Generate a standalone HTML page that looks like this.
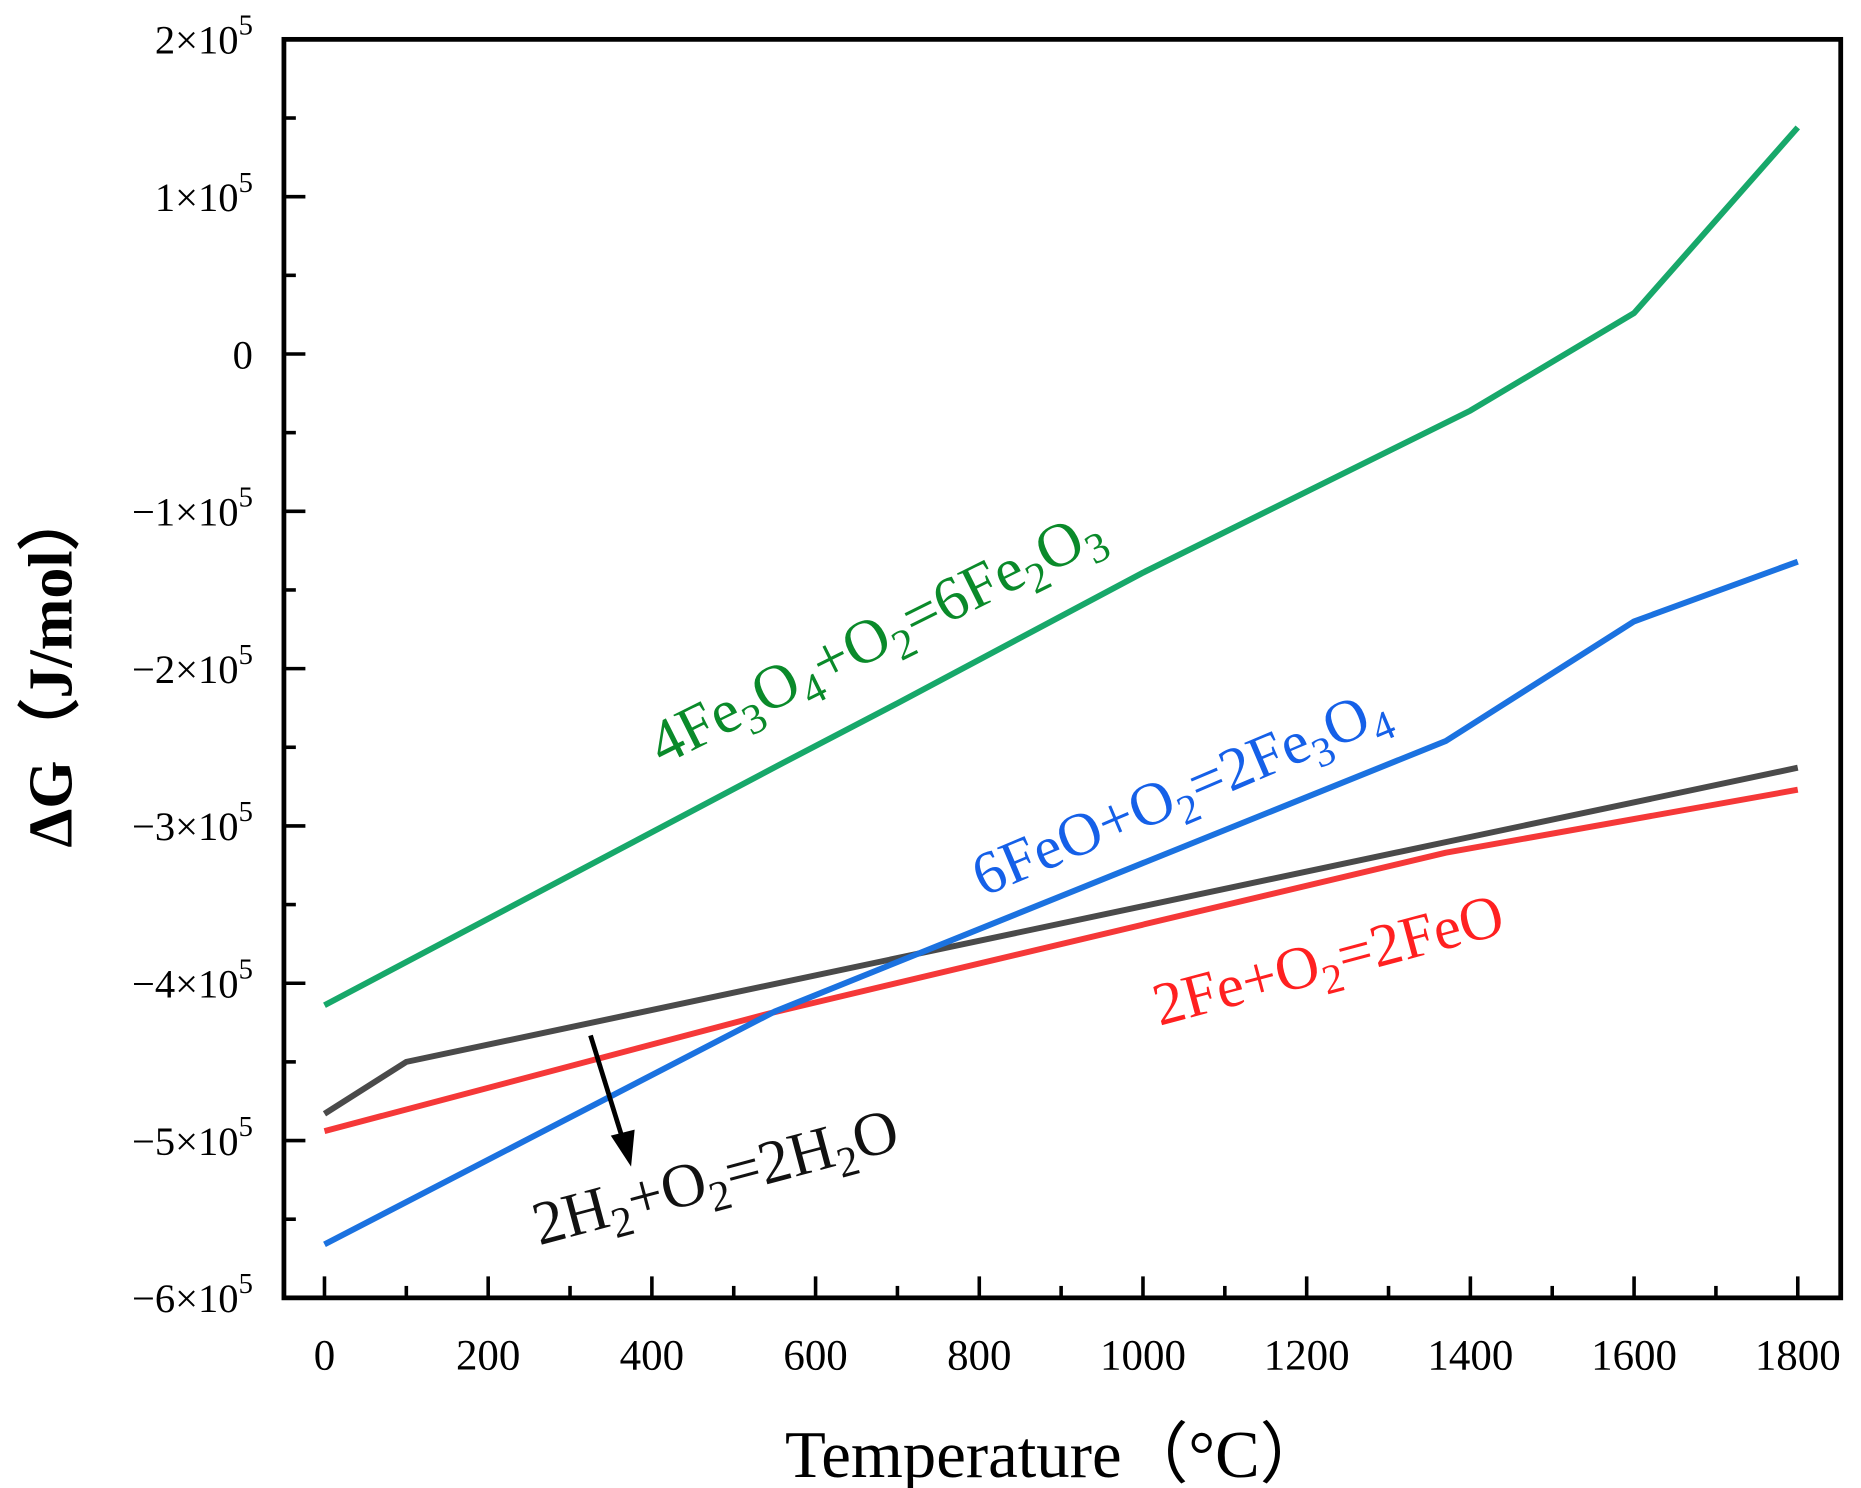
<!DOCTYPE html>
<html><head><meta charset="utf-8"><style>
body{margin:0;background:#fff}
svg{display:block}
text{font-family:"Liberation Serif",serif}
</style></head><body>
<svg id="chart" width="1861" height="1488" viewBox="0 0 1560 1247.4" preserveAspectRatio="none">
<g id="marks"></g>
<rect x="238" y="33" width="1305" height="1055" fill="none" stroke="#000" stroke-width="4"/>
<g id="ticks"></g>
<text x="885" y="1238" font-size="56" text-anchor="middle">Temperature（°C）</text>
<text transform="translate(60,560) rotate(-90)" font-size="52" font-weight="bold" text-anchor="middle">ΔG（J/mol）</text>
<text transform="translate(555,642) rotate(-26.5)" font-size="52" fill="#0a8a2a">4Fe<tspan font-size="36" dy="11">3</tspan><tspan dy="-11">O</tspan><tspan font-size="36" dy="11">4</tspan><tspan dy="-11">+O</tspan><tspan font-size="36" dy="11">2</tspan><tspan dy="-11">=6Fe</tspan><tspan font-size="36" dy="11">2</tspan><tspan dy="-11">O</tspan><tspan font-size="36" dy="11">3</tspan></text>
<text transform="translate(824,752) rotate(-23)" font-size="51" fill="#1560e8">6FeO+O<tspan font-size="35" dy="11">2</tspan><tspan dy="-11">=2Fe</tspan><tspan font-size="35" dy="11">3</tspan><tspan dy="-11">O</tspan><tspan font-size="35" dy="11">4</tspan></text>
<text transform="translate(972,860) rotate(-15)" font-size="51" fill="#ff2020">2Fe+O<tspan font-size="35" dy="11">2</tspan><tspan dy="-11">=2FeO</tspan></text>
<text transform="translate(452,1044) rotate(-15)" font-size="52" fill="#111">2H<tspan font-size="36" dy="11">2</tspan><tspan dy="-11">+O</tspan><tspan font-size="36" dy="11">2</tspan><tspan dy="-11">=2H</tspan><tspan font-size="36" dy="11">2</tspan><tspan dy="-11">O</tspan></text>
<line x1="495" y1="868" x2="522" y2="955" stroke="#000" stroke-width="4"/>
<polygon points="529,978 512,952 532,947" fill="#000"/>
</svg>
<script>
const greenT=[0,360,560,700,1000,1400,1600,1800];
const greenG=[-4.14,-3.15,-2.6,-2.22,-1.39,-0.36,0.26,1.44];
const blueT=[0,550,1370,1600,1800];
const blueG=[-5.66,-4.18,-2.46,-1.70,-1.32];
const blackT=[0,100,1800];
const blackG=[-4.83,-4.50,-2.63];
const redT=[0,545,1370,1800];
const redG=[-4.94,-4.19,-3.17,-2.77];
const xTicks=[0,200,400,600,800,1000,1200,1400,1600,1800];
const yTicks=[2,1,0,-1,-2,-3,-4,-5,-6];
const NS="http://www.w3.org/2000/svg";
const X=t=>272+(t/1800)*(1507-272);
const Y=g=>33+(2-g)*(1088-33)/8;
const marks=document.getElementById('marks'),ticks=document.getElementById('ticks');
function line(T,G,color,name){
  const p=document.createElementNS(NS,'polyline');
  p.setAttribute('points',T.map((t,i)=>X(t)+','+Y(G[i])).join(' '));
  p.setAttribute('fill','none');p.setAttribute('stroke',color);p.setAttribute('stroke-width','5');
  p.setAttribute('stroke-linejoin','round');
  
  
  marks.appendChild(p);
}
line(greenT,greenG,'#17a86a','series-fe3o4-fe2o3');
line(redT,redG,'#f53838','series-fe-feo');
line(blackT,blackG,'#4a4a4a','series-h2-h2o');
line(blueT,blueG,'#1b72e0','series-feo-fe3o4');
function seg(x1,y1,x2,y2){const l=document.createElementNS(NS,'line');l.setAttribute('x1',x1);l.setAttribute('y1',y1);l.setAttribute('x2',x2);l.setAttribute('y2',y2);l.setAttribute('stroke','#000');l.setAttribute('stroke-width','3');


ticks.appendChild(l);}
for(let t=0;t<=1800;t+=100){seg(X(t),1088,X(t),t%200?1078:1070);}
for(let g=-6;g<=2;g+=0.5){seg(238,Y(g),Number.isInteger(g)?256:248,Y(g));}
xTicks.forEach(t=>{const e=document.createElementNS(NS,'text');e.setAttribute('x',X(t));e.setAttribute('y',1148);e.setAttribute('font-size','36');e.setAttribute('text-anchor','middle');e.textContent=t;


ticks.appendChild(e);});
yTicks.forEach(g=>{const e=document.createElementNS(NS,'text');e.setAttribute('x',212);e.setAttribute('y',Y(g)+12);e.setAttribute('font-size','34');e.setAttribute('text-anchor','end');
e.innerHTML=g===0?'0':(g<0?'−':'')+Math.abs(g)+'×10<tspan font-size="24" dy="-16">5</tspan>';


ticks.appendChild(e);});
</script>
</body></html>
